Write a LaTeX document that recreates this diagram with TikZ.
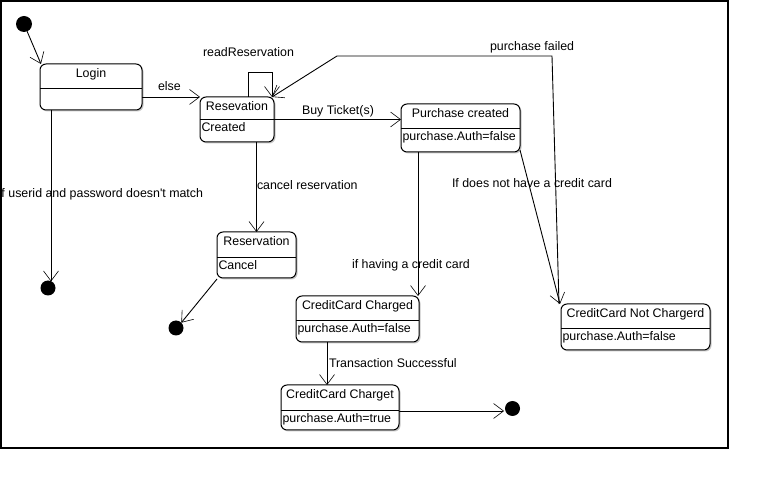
\documentclass[tikz,border=0pt]{standalone}
\usepackage{fontspec}
\setmainfont{Liberation Sans}
\usetikzlibrary{arrows.meta,shadows}

\tikzset{
  lbl/.style={font=\fontsize{12.4}{14}\selectfont, inner sep=0pt, outer sep=0pt},
  statebox/.style={draw, line width=1pt, rounded corners=6pt, fill=white,
    inner sep=0pt, outer sep=0pt,
    drop shadow={shadow xshift=1.5pt, shadow yshift=-1.5pt, fill=black!22, opacity=1}},
  initstate/.style={circle, fill=black, inner sep=0pt, outer sep=0pt, minimum size=16pt},
  finalstate/.style={circle, fill=black, inner sep=0pt, outer sep=0pt, minimum size=15pt},
  trans/.style={line width=0.9pt, -{Straight Barb[length=10pt,width=15pt,line width=0.6pt]}},
}

% state with a title compartment and a body compartment
% #1 name, #2 centre x, #3 centre y, #4 width, #5 height, #6 divider depth, #7 title, #8 body
\newcommand\umlstate[8]{%
  \node[statebox, minimum width=#4pt, minimum height=#5pt] (#1) at (#2,#3) {};
  \draw[line width=0.8pt] ([yshift=-#6pt]#1.north west) -- ([yshift=-#6pt]#1.north east);
  \node[lbl, anchor=base] at ([yshift=-14pt]#1.north) {#7};
  \node[lbl, anchor=base west] at ([xshift=1.5pt,yshift=-#6pt-13pt]#1.north west) {#8};
}

\begin{document}
\begin{tikzpicture}[x=1pt, y=-1pt]
  \useasboundingbox (0,0) rectangle (769,486);
  \draw[line width=1.3pt] (1,1) rectangle (728,448);

  % states
  \umlstate{login}{91}{87}{102}{46}{24}{Login}{}
  \umlstate{res}{237}{119.5}{74}{45}{22}{Resevation}{Created}
  \umlstate{purch}{460.5}{128}{119}{48}{24}{Purchase created}{purchase.Auth=false}
  \umlstate{cancel}{256.5}{255}{79}{46}{25}{Reservation}{Cancel}
  \umlstate{ccd}{357.5}{319}{123}{46}{24}{CreditCard Charged}{purchase.Auth=false}
  \umlstate{cct}{340}{407.5}{118}{45}{25}{CreditCard Charget}{purchase.Auth=true}
  \umlstate{notch}{635.5}{327}{149}{46}{24}{CreditCard Not Chargerd}{purchase.Auth=false}

  % pseudo states
  \node[initstate] (start) at (24,24) {};
  \node[finalstate] (end1) at (48,288) {};
  \node[finalstate] (end2) at (176,328) {};
  \node[finalstate] (end3) at (512.5,408.5) {};

  % helper points
  \coordinate (loopL) at (248,72);
  \coordinate (loopR) at (272,72);
  \coordinate (failA) at (552,56);
  \coordinate (failB) at (337,56);
  \coordinate (e1top) at ([xshift=3pt,yshift=-1pt]end1.north);

  % transitions
  \draw[trans] (start) -- ([xshift=1pt]login.north west);
  \draw[trans] (login.east |- res.north west) -- (res.north west);
  \draw[trans] (res.north -| loopL) -- (loopL) -- (loopR) -- (res.north -| loopR);
  \draw[trans] ([xshift=-2pt]notch.north west) -- (failA) -- (failB) -- ([xshift=-2pt]res.north east);
  \draw[trans] (res.east) -- (purch.west |- res.east);
  \draw[trans] (cancel.north |- res.south) -- (cancel.north);
  \draw[trans] (login.south -| e1top) -- (e1top);
  \draw[trans] ([xshift=0pt,yshift=-1pt]cancel.south west) -- (end2.north east);
  \draw[trans] (purch.south -| 418,0) -- (ccd.north -| 418,0);
  \draw[trans] ([yshift=2pt]purch.south east) -- ([xshift=-1pt]notch.north west);
  \draw[trans] (ccd.south -| 327,0) -- (cct.north -| 327,0);
  \draw[trans] (cct.east |- 0,411) -- ([xshift=-1pt]end3.west |- 0,411);

  % transition labels
  \node[lbl, anchor=base west] (lRead) at (203,57) {readReservation};
  \node[lbl, anchor=base west] (lElse) at (158,91) {else};
  \node[lbl, anchor=base west] (lFail) at (490,51) {purchase failed};
  \node[lbl, anchor=base west] (lBuy) at (302,115) {Buy Ticket(s)};
  \node[lbl, anchor=base west] (lCancel) at (257,190) {cancel reservation};
  \node[lbl, anchor=base west] (lNoMatch) at (1.5,198) {f userid and password doesn\textquotesingle t match};
  \node[lbl, anchor=base west] (lHave) at (352,269) {if having a credit card};
  \node[lbl, anchor=base west] (lNoCard) at (452,188) {If does not have a credit card};
  \node[lbl, anchor=base west] (lOk) at (329,368) {Transaction Successful};
\end{tikzpicture}
\end{document}
